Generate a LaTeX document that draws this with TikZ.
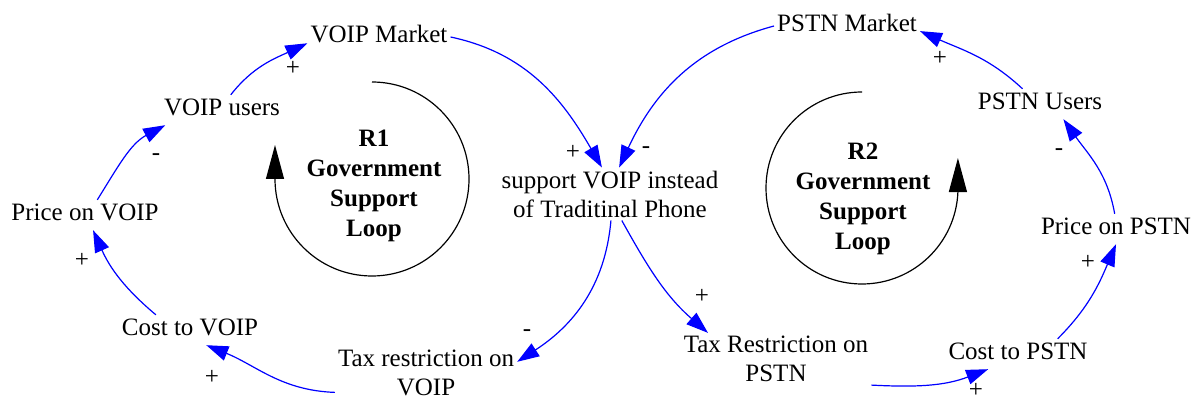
\documentclass[tikz,border=0pt]{standalone}
\usepackage{fontspec}
\setmainfont{Liberation Serif}
\usetikzlibrary{arrows.meta}

\begin{document}
\begin{tikzpicture}[x=1pt, y=1pt,
  var/.style={font=\fontsize{25}{30}\selectfont, text height=18pt, text depth=6pt, inner sep=3pt},
  vartwo/.style={font=\fontsize{25}{29}\selectfont, align=center, inner sep=3pt},
  loopname/.style={font=\fontsize{25}{30}\selectfont\bfseries, align=center},
  sign/.style={font=\fontsize{25}{30}\selectfont, inner sep=0pt},
  link/.style={blue, line width=1.2pt, -{Triangle[length=22pt,width=15pt]}},
  looparrow/.style={black, line width=1.2pt, -{Triangle[length=34pt,width=18pt]}}]
\useasboundingbox (0,0) rectangle (1198,401);

% variables
\node[var] (vmarket) at (379,364) {VOIP Market};
\node[var] (vusers) at (222,291) {VOIP users};
\node[var] (vprice) at (85,186) {Price on VOIP};
\node[var] (vcost) at (190,71) {Cost to VOIP};
\node[vartwo] (vtax) at (426,28) {Tax restriction on\\VOIP};
\node[vartwo] (support) at (610,207) {support VOIP instead\\of Traditinal Phone};
\node[vartwo] (ptax) at (776,42) {Tax Restriction on\\PSTN};
\node[var] (pcost) at (1018,47) {Cost to PSTN};
\node[var] (pprice) at (1116,172) {Price on PSTN};
\node[var] (pusers) at (1040,297) {PSTN Users};
\node[var] (pmarket) at (847,375) {PSTN Market};

% loops
\node[loopname] (rone) at (374,215) {R1\\Government\\Support\\Loop};
\node[loopname] (rtwo) at (863,202) {R2\\Government\\Support\\Loop};
\draw[looparrow] (372,319) arc[start angle=90, end angle=-180, radius=97] -- ++(0,34);
\draw[looparrow] (862,309) arc[start angle=90, end angle=357.6, radius=96] -- ++(0,34);

% links
\draw[link] (vusers.60) to[out=52,in=205] (vmarket.185);
\draw[link] (vmarket.east) to[out=-12,in=120] (support.107);
\draw[link] (pmarket.west) to[out=195,in=65] (support.71);
\draw[link] (pusers.139) to[out=137,in=-24] (pmarket.-4);
\draw[link] (pprice.95) to[out=100,in=-55] (pusers.-33);
\draw[link] (pcost.21) to[out=45,in=-113] (pprice.south);
\draw[link] (ptax.south east) to[out=-3,in=201] (pcost.207);
\draw[link] (support.-66) to[out=-61,in=139] (ptax.159);
\draw[link] (support.-88) to[out=-95,in=33] (vtax.7);
\draw[link] (vtax.192) to[out=178,in=-22] (vcost.-43);
\draw[link] (vcost.156) to[out=140,in=-66] (vprice.-62);
\draw[link] (vprice.51) to[out=58,in=208] (vusers.195);

% polarities
\node[sign] (s1) at (293,333) {+};
\node[sign] (s2) at (573,249) {+};
\node[sign] (s3) at (646,251) {-};
\node[sign] (s4) at (940,343) {+};
\node[sign] (s5) at (1059,249) {-};
\node[sign] (s6) at (1088,139) {+};
\node[sign] (s7) at (976,11) {+};
\node[sign] (s8) at (702,105) {+};
\node[sign] (s9) at (527,68) {-};
\node[sign] (s10) at (212,24) {+};
\node[sign] (s11) at (82,141) {+};
\node[sign] (s12) at (156,244) {-};
\end{tikzpicture}
\end{document}
